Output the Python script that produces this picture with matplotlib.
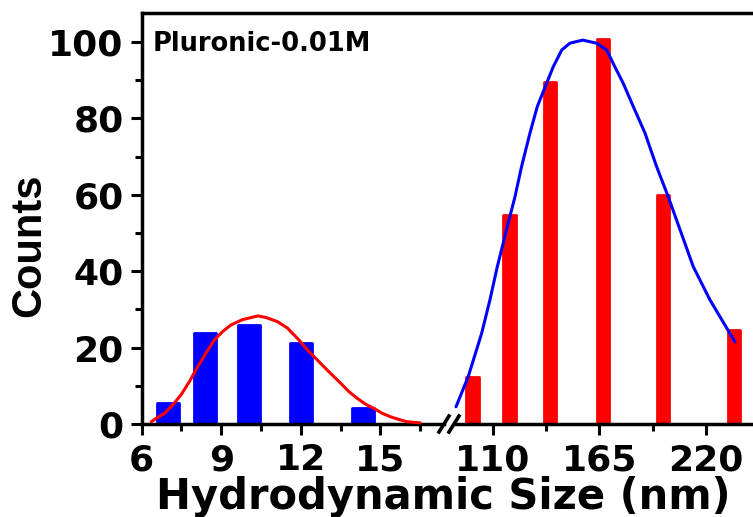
import matplotlib
matplotlib.use('Agg')
import matplotlib.pyplot as plt
from matplotlib.lines import Line2D

# ---------------- data ----------------
small_x = [7.0, 8.4, 10.05, 12.0, 14.35]
small_counts = [5.6, 23.9, 25.9, 21.3, 4.3]

large_x = [99.6, 118.7, 139.5, 166.8, 197.7, 234.5]
large_counts = [12.4, 54.7, 89.6, 100.7, 59.9, 24.6]

small_fit_x = [6.36, 6.55, 6.86, 7.17, 7.48, 7.80, 8.11, 8.42, 8.74, 9.05, 9.36,
               9.79, 10.38, 10.68, 11.12, 11.50, 11.62, 11.93, 12.25, 12.56, 12.87,
               13.19, 13.50, 13.81, 14.13, 14.44, 14.75, 15.07, 15.38, 15.69, 16.0, 16.5]
small_fit_y = [0.6, 1.5, 2.8, 5.0, 7.6, 11.1, 15.0, 18.5, 22.0, 24.2, 25.9,
               27.3, 28.3, 27.9, 26.8, 25.1, 24.2, 22.0, 19.4, 17.2, 15.0,
               12.8, 10.7, 8.5, 6.7, 5.2, 4.1, 2.8, 1.9, 1.2, 0.6, 0.3]

large_fit_x = [91.1, 97.4, 104.3, 108.6, 112.4, 117.2, 121.5, 124.9, 129.2, 133.0,
               137.8, 141.2, 145.6, 149.8, 156.4, 163.6, 168.8, 173.0, 177.3, 182.5,
               188.5, 194.5, 200.5, 213.4, 222.0, 234.9]
large_fit_y = [4.5, 12.4, 23.7, 32.5, 41.2, 51.0, 59.5, 67.4, 76.1, 83.1,
               89.2, 93.5, 97.9, 99.7, 100.5, 99.7, 97.9, 93.5, 89.2, 83.1,
               76.2, 67.4, 59.5, 41.2, 32.5, 21.5]

left_major = [6, 9, 12, 15]
left_minor = [7.5, 10.5, 13.5, 16.5]
right_major = [110, 165, 220]
right_minor = [137.5, 192.5]
y_major = [0, 20, 40, 60, 80, 100]
y_minor = [10, 30, 50, 70, 90]

# ---------------- layout ----------------
W, H = 753, 517
fig = plt.figure(figsize=(W / 100, H / 100), dpi=100)

def fx(px):
    return px / W

def fy(py):
    return 1 - py / H

bottom_px, top_px = 424, 13
left_px, gapL_px, gapR_px = 141.7, 444, 456
axL = fig.add_axes([fx(left_px), fy(bottom_px), fx(gapL_px) - fx(left_px),
                    (bottom_px - top_px) / H])
axR = fig.add_axes([fx(gapR_px), fy(bottom_px), 1 - fx(gapR_px),
                    (bottom_px - top_px) / H])

SPW = 2.5
for ax in (axL, axR):
    ax.set_ylim(0, 107.6)
    for s in ax.spines.values():
        s.set_linewidth(SPW)
    ax.spines['right'].set_visible(False)
    ax.spines['top'].set_visible(False)
    ax.tick_params(which='major', direction='out', length=8, width=2.2, pad=5)
    ax.tick_params(which='minor', direction='out', length=5, width=2.2)
    ax.set_facecolor('none')

axL.set_xlim(6.0, 17.4)
axR.set_xlim(91.1, 244.2)
axR.spines['left'].set_visible(False)
axR.tick_params(axis='y', which='both', left=False, labelleft=False)

axL.set_xticks(left_major)
axL.set_xticks(left_minor, minor=True)
axR.set_xticks(right_major)
axR.set_xticks(right_minor, minor=True)
axL.set_yticks(y_major)
axL.set_yticks(y_minor, minor=True)
axR.set_yticks([])

for ax in (axL, axR):
    for lab in ax.get_xticklabels() + ax.get_yticklabels():
        lab.set_fontfamily('DejaVu Sans')
        lab.set_fontweight('bold')
        lab.set_fontsize(26)
    ax.tick_params(axis='x', pad=6)

# bars
axL.bar(small_x, small_counts, width=0.82, color='#0000ff', edgecolor='#0000ff',
        linewidth=2, joinstyle='round', zorder=2)
axR.bar(large_x, large_counts, width=6.3, color='#ff0000', edgecolor='#ff0000',
        linewidth=2, joinstyle='round', zorder=2)

# fit curves
axL.plot(small_fit_x, small_fit_y, color='#ff0000', lw=2.2, zorder=3, clip_on=False,
         solid_joinstyle='round', solid_capstyle='round')
axR.plot(large_fit_x, large_fit_y, color='#0000ff', lw=2.2, zorder=3, clip_on=False,
         solid_joinstyle='round', solid_capstyle='round')

# continuous top border
fig.add_artist(Line2D([fx(left_px), 1.0], [fy(top_px), fy(top_px)], color='black',
                      lw=SPW, solid_capstyle='projecting'))
# break marks
for x0 in (439, 449):
    fig.add_artist(Line2D([fx(x0), fx(x0 + 10)], [fy(bottom_px + 8), fy(bottom_px - 8)],
                          color='black', lw=2.6))

# text
axL.text(0.035, 0.955, 'Pluronic-0.01M', transform=axL.transAxes, ha='left', va='top',
         fontfamily='DejaVu Sans', fontweight='bold', fontsize=18.5)
fig.text(fx(443), fy(497), 'Hydrodynamic Size (nm)', ha='center', va='center',
         fontfamily='DejaVu Sans', fontweight='bold', fontsize=30)
fig.text(fx(29), fy(245), 'Counts', ha='center', va='center', rotation=90,
         fontfamily='Liberation Sans', fontweight='bold', fontsize=30)

fig.savefig('out.png', dpi=100, facecolor='white')
